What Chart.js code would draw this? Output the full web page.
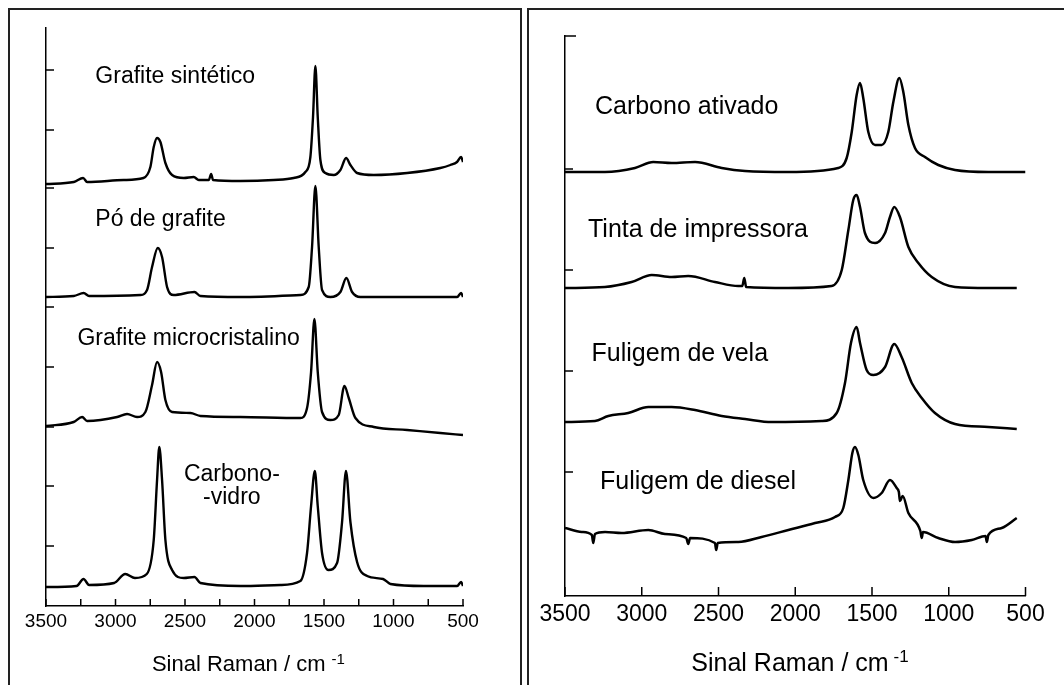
<!DOCTYPE html>
<html lang="pt">
<head>
<meta charset="utf-8">
<title>Espectros Raman de materiais de carbono</title>
<script src="https://cdn.jsdelivr.net/npm/chart.js@4.4.1/dist/chart.umd.min.js"></script>
<style>
    html, body { margin: 0; padding: 0; background: #fff; overflow: hidden; }
    body { width: 1064px; height: 685px; position: relative; }
    .panel { position: absolute; top: 8px; height: 700px; border: 2px solid #222; box-sizing: border-box; }
    #panel-left { left: 8px; width: 514px; }
    #panel-right { left: 527px; width: 560px; }
    canvas { position: absolute; top: 0; }
    #chart-left { left: 0; }
    #chart-right { left: 530px; }
</style>
</head>
<body>
<div class="panel" id="panel-left"></div>
<div class="panel" id="panel-right"></div>
<canvas id="chart-left" width="524" height="685"></canvas>
<canvas id="chart-right" width="534" height="685"></canvas>
<script>
const FONT = '"Liberation Sans", Arial, sans-serif';

// --- Grafites (painel da esquerda), número de onda em cm-1 e intensidade deslocada ---
const sinteticoX = [3500, 3300, 3233, 3204, 2941, 2799, 2749, 2725, 2701, 2677, 2641, 2593, 2509, 2437, 2401, 2329, 2312, 2298, 2101, 1862, 1718, 1634, 1598, 1579, 1562, 1545, 1526, 1490, 1430, 1382, 1341, 1310, 1262, 1142, 902, 663, 591, 543, 514, 500];
const sinteticoY = [422, 424, 428, 424, 426, 428, 439, 459, 468, 464, 443, 431, 428, 429, 426, 426, 432, 426, 425, 426, 428, 434, 449, 489, 540, 489, 446, 433, 431, 436, 448, 441, 433, 431, 433, 438, 441, 444, 449, 444];

const poX = [3500, 3300, 3229, 3190, 2821, 2773, 2737, 2696, 2665, 2629, 2581, 2432, 2389, 2101, 1670, 1610, 1586, 1562, 1538, 1514, 1454, 1382, 1339, 1298, 1238, 902, 542, 514, 500];
const poY = [309, 310, 313, 310, 311, 316, 339, 358, 349, 319, 311, 314, 310, 309, 311, 319, 359, 420, 359, 316, 309, 314, 328, 314, 309, 309, 309, 313, 309];

const microX = [3500, 3301, 3240, 3204, 2988, 2917, 2845, 2785, 2737, 2701, 2672, 2641, 2593, 2461, 2389, 2101, 1670, 1622, 1593, 1569, 1545, 1514, 1454, 1394, 1353, 1322, 1274, 1142, 902, 663, 500];
const microY = [180, 184, 189, 185, 189, 192, 189, 194, 221, 244, 234, 206, 194, 193, 190, 189, 188, 198, 234, 287, 234, 194, 186, 191, 220, 208, 188, 179, 176, 173, 171];

const vidroX = [3500, 3280, 3230, 3190, 3010, 2930, 2860, 2775, 2725, 2701, 2685, 2665, 2641, 2593, 2509, 2432, 2389, 2100, 1814, 1670, 1622, 1593, 1566, 1545, 1514, 1468, 1406, 1370, 1342, 1310, 1262, 1190, 1075, 1022, 782, 542, 514, 500];
const vidroY = [19, 20, 27, 21, 23, 32, 28, 32, 66, 126, 159, 126, 66, 36, 28, 29, 23, 20, 21, 25, 53, 100, 135, 100, 53, 36, 43, 84, 135, 84, 44, 30, 27, 22, 20, 20, 24, 20];

// --- Carbonos amorfos (painel da direita) ---
const ativadoX = [3500, 3240, 3044, 2925, 2805, 2653, 2479, 2327, 2045, 1720, 1665, 1632, 1600, 1578, 1557, 1524, 1480, 1437, 1394, 1361, 1322, 1296, 1263, 1220, 1155, 1068, 959, 742, 500];
const ativadoY = [424, 424, 428, 434, 433, 434, 428, 425, 424, 428, 438, 464, 501, 513, 498, 464, 451, 451, 464, 494, 518, 504, 471, 448, 439, 431, 426, 424, 424];

const tintaX = [3500, 3240, 3066, 2935, 2805, 2697, 2523, 2371, 2345, 2332, 2320, 2045, 1763, 1697, 1654, 1622, 1600, 1578, 1546, 1480, 1415, 1383, 1355, 1318, 1263, 1198, 1111, 959, 742, 557];
const tintaY = [308, 309, 314, 321, 319, 320, 314, 310, 310, 318, 309, 308, 310, 326, 366, 396, 401, 389, 363, 353, 363, 379, 389, 379, 349, 333, 319, 309, 308, 308];

const velaX = [3500, 3305, 3218, 3088, 2957, 2805, 2653, 2479, 2327, 2153, 1828, 1730, 1676, 1637, 1600, 1578, 1535, 1491, 1415, 1355, 1307, 1241, 1176, 1090, 959, 742, 557];
const velaY = [174, 175, 180, 183, 189, 189, 186, 180, 177, 174, 175, 183, 213, 253, 269, 253, 226, 221, 229, 252, 239, 213, 198, 183, 172, 169, 167];

const dieselX = [3500, 3391, 3325, 3316, 3305, 3239, 3131, 2957, 2849, 2710, 2697, 2685, 2523, 2515, 2505, 2371, 2219, 2045, 1871, 1741, 1687, 1654, 1628, 1611, 1589, 1557, 1491, 1437, 1383, 1339, 1325, 1318, 1300, 1263, 1185, 1176, 1168, 1068, 959, 850, 760, 752, 742, 655, 557];
const dieselY = [68, 64, 61, 53, 62, 64, 63, 66, 62, 58, 52, 58, 53, 46, 53, 54, 59, 66, 73, 79, 88, 116, 143, 149, 141, 116, 98, 103, 116, 108, 104, 95, 100, 83, 65, 58, 64, 58, 54, 56, 60, 54, 61, 68, 78];

const leftNames = ["Grafite sintético", "Pó de grafite", "Grafite microcristalino", "Carbono-vidro"];
const rightNames = ["Carbono ativado", "Tinta de impressora", "Fuligem de vela", "Fuligem de diesel"];

// eixos
const xTicksLeft = [3500, 3250, 3000, 2750, 2500, 2250, 2000, 1750, 1500, 1250, 1000, 750, 500];
const xTicksRight = [3500, 3000, 2500, 2000, 1500, 1000, 500];
const xLabels = [3500, 3000, 2500, 2000, 1500, 1000, 500];
const yTicksLeft = [60, 120, 179, 239, 299, 358, 418, 476, 536];
const yTicksRight = [124, 225, 326, 427, 560];
const axisTitle = "Sinal Raman / cm";
const axisTitleExp = "-1";

const toPoints = (xs, ys) => xs.map((x, i) => ({ x: x, y: ys[i] }));

// marcas dos eixos para dentro, rótulos das curvas e título com expoente
const ramanDecor = {
    id: "ramanDecor",
    afterDraw(chart, args, opts) {
        const { ctx, chartArea, scales: { x, y } } = chart;
        ctx.save();
        ctx.strokeStyle = "#000";
        ctx.lineWidth = 1.5;
        ctx.beginPath();
        x.ticks.forEach(t => {
            const px = x.getPixelForValue(t.value);
            ctx.moveTo(px, chartArea.bottom);
            ctx.lineTo(px, chartArea.bottom - opts.xTickLen);
        });
        y.ticks.forEach(t => {
            const py = y.getPixelForValue(t.value);
            const len = t.value === y.max ? opts.capLen : opts.yTickLen;
            if (!len) return;
            ctx.moveTo(chartArea.left, py);
            ctx.lineTo(chartArea.left + len, py);
        });
        ctx.stroke();

        ctx.fillStyle = "#000";
        ctx.textBaseline = "alphabetic";
        ctx.font = `${opts.labelSize}px ${FONT}`;
        opts.labels.forEach(l => {
            ctx.textAlign = l.align || "left";
            ctx.fillText(l.text, x.getPixelForValue(l.x), y.getPixelForValue(l.y));
        });

        const t = opts.title;
        ctx.textAlign = "left";
        ctx.font = `${t.size}px ${FONT}`;
        const wMain = ctx.measureText(axisTitle).width;
        ctx.font = `${t.expSize}px ${FONT}`;
        const wExp = ctx.measureText(axisTitleExp).width;
        const startX = x.getPixelForValue(t.at) - (wMain + t.gap + wExp) / 2;
        ctx.font = `${t.size}px ${FONT}`;
        ctx.fillText(axisTitle, startX, chartArea.bottom + t.baseline);
        ctx.font = `${t.expSize}px ${FONT}`;
        ctx.fillText(axisTitleExp, startX + wMain + t.gap, chartArea.bottom + t.expBaseline);
        ctx.restore();
    }
};

const makePanel = (canvasId, p) => new Chart(document.getElementById(canvasId), {
    type: "line",
    data: {
        datasets: p.series.map(s => ({
            label: s.name,
            data: toPoints(s.x, s.y),
            borderColor: "#000",
            borderWidth: p.lineWidth,
            pointRadius: 0,
            fill: false,
            cubicInterpolationMode: "monotone"
        }))
    },
    options: {
        responsive: false,
        animation: false,
        devicePixelRatio: 1,
        layout: { padding: p.padding },
        plugins: {
            legend: { display: false },
            tooltip: { enabled: false },
            ramanDecor: p.decor
        },
        scales: {
            x: {
                type: "linear",
                min: 500,
                max: 3500,
                reverse: true,
                afterBuildTicks: scale => { scale.ticks = p.xTicks.map(v => ({ value: v })); },
                afterFit: scale => { scale.height = p.xHeight; },
                grid: { display: false, drawTicks: false },
                border: { display: true, color: "#000", width: 1.5 },
                ticks: {
                    autoSkip: false,
                    maxRotation: 0,
                    padding: p.tickPadding,
                    color: "#000",
                    font: { family: FONT, size: p.tickSize },
                    callback: v => xLabels.includes(v) ? String(v) : ""
                }
            },
            y: {
                type: "linear",
                min: 0,
                max: p.yMax,
                afterBuildTicks: scale => { scale.ticks = p.yTicks.map(v => ({ value: v })); },
                afterFit: scale => { scale.width = 0; },
                grid: { display: false, drawTicks: false },
                border: { display: true, color: "#000", width: 1.5 },
                ticks: { display: false }
            }
        }
    },
    plugins: [ramanDecor]
});

document.addEventListener("DOMContentLoaded", () => {
    makePanel("chart-left", {
        series: [
            { name: leftNames[0], x: sinteticoX, y: sinteticoY },
            { name: leftNames[1], x: poX, y: poY },
            { name: leftNames[2], x: microX, y: microY },
            { name: leftNames[3], x: vidroX, y: vidroY }
        ],
        lineWidth: 2.4,
        padding: { left: 46, top: 28, right: 61, bottom: 0 },
        xHeight: 79,
        yMax: 578,
        xTicks: xTicksLeft,
        yTicks: yTicksLeft,
        tickSize: 19,
        tickPadding: 4,
        decor: {
            xTickLen: 7,
            yTickLen: 8,
            capLen: 0,
            labelSize: 23,
            labels: [
                { text: leftNames[0], x: 3145, y: 523 },
                { text: leftNames[1], x: 3145, y: 380 },
                { text: leftNames[2], x: 3274, y: 261 },
                { text: "Carbono-", x: 2163, y: 125, align: "center" },
                { text: "-vidro", x: 2163, y: 102, align: "center" }
            ],
            title: { at: 2044, size: 22, expSize: 15, gap: 6, baseline: 65, expBaseline: 58 }
        }
    });

    makePanel("chart-right", {
        series: [
            { name: rightNames[0], x: ativadoX, y: ativadoY },
            { name: rightNames[1], x: tintaX, y: tintaY },
            { name: rightNames[2], x: velaX, y: velaY },
            { name: rightNames[3], x: dieselX, y: dieselY }
        ],
        lineWidth: 2.5,
        padding: { left: 35, top: 36, right: 38.5, bottom: 0 },
        xHeight: 89,
        yMax: 560,
        xTicks: xTicksRight,
        yTicks: yTicksRight,
        tickSize: 23,
        tickPadding: 5,
        decor: {
            xTickLen: 9,
            yTickLen: 8,
            capLen: 11,
            labelSize: 25,
            labels: [
                { text: rightNames[0], x: 3305, y: 482 },
                { text: rightNames[1], x: 3350, y: 359 },
                { text: rightNames[2], x: 3327, y: 235 },
                { text: rightNames[3], x: 3272, y: 107 }
            ],
            title: { at: 1969, size: 25, expSize: 17, gap: 5, baseline: 75, expBaseline: 66 }
        }
    });
});
</script>
</body>
</html>
